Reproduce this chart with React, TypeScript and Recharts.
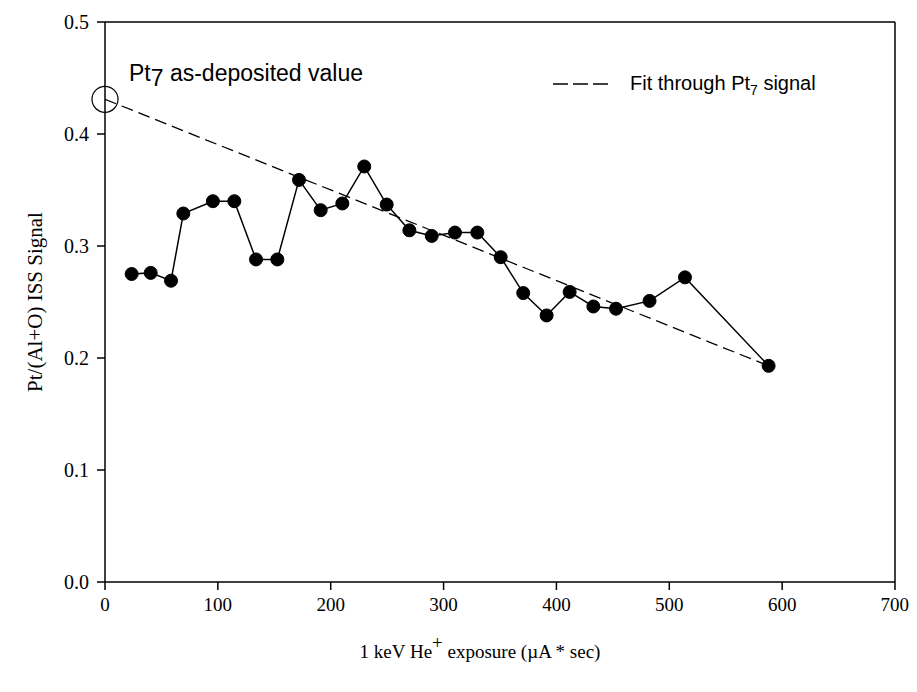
import { ComposedChart, Line, XAxis, YAxis, ReferenceLine, ReferenceDot, Label } from 'recharts';

// ISS signal vs. He+ exposure
const exposure = [
  23.6, 40.5, 58.5, 69.4, 95.6, 114.6, 133.8, 152.7, 171.9, 191.1, 210.3, 229.7, 249.6,
  269.7, 289.5, 310.1, 329.9, 350.6, 370.6, 391.3, 411.7, 432.7, 452.8, 482.5, 513.9, 588,
];
const signal = [
  0.275, 0.276, 0.269, 0.329, 0.34, 0.34, 0.288, 0.288, 0.359, 0.332, 0.338, 0.371, 0.337,
  0.314, 0.309, 0.312, 0.312, 0.29, 0.258, 0.238, 0.259, 0.246, 0.244, 0.251, 0.272, 0.193,
];

// straight fit through the Pt7 signal
const fitExposure = [0, 588];
const fitSignal = [0.431, 0.193];

// as-deposited value
const asDepositedExposure = 0;
const asDepositedSignal = 0.431;

const xTicks = [0, 100, 200, 300, 400, 500, 600, 700];
const yTicks = [0, 0.1, 0.2, 0.3, 0.4, 0.5];

const measured = exposure.map((x, i) => ({ x, y: signal[i] }));
const fit = fitExposure.map((x, i) => ({ x, y: fitSignal[i] }));

const W = 901;
const H = 676;
const serif = '"Liberation Serif", "Times New Roman", serif';
const sans = '"Liberation Sans", Arial, sans-serif';

function YTitle(props: any) {
  const vb = props.viewBox;
  const cx = vb.x + 7;
  const cy = vb.y + vb.height / 2;
  return (
    <text
      x={cx}
      y={cy}
      transform={`rotate(-90 ${cx} ${cy})`}
      textAnchor="middle"
      dominantBaseline="central"
      fontFamily={serif}
      fontSize={21}
      fill="#000"
    >
      Pt/(Al+O) ISS Signal
    </text>
  );
}

function XTitle(props: any) {
  const vb = props.viewBox;
  return (
    <text
      x={vb.x + vb.width / 2 - 20}
      y={vb.y + 76}
      textAnchor="middle"
      fontFamily={serif}
      fontSize={19}
      fill="#000"
    >
      1 keV He
      <tspan dy={-9} fontSize={19}>+</tspan>
      <tspan dy={9}> exposure (µA * sec)</tspan>
    </text>
  );
}

export default function App() {
  return (
    <div style={{ position: 'relative', width: W, height: H }}>
      <ComposedChart width={W} height={H} margin={{ top: 14, right: 14, bottom: 42, left: 20 }}>
        <XAxis
          type="number"
          dataKey="x"
          domain={[0, 700]}
          ticks={xTicks}
          allowDataOverflow
          height={60}
          tickSize={8}
          tickMargin={8}
          stroke="#000"
          strokeWidth={1.5}
          tick={{ fill: '#000', fontSize: 19, fontFamily: serif }}
        >
          <Label content={XTitle} />
        </XAxis>
        <YAxis
          type="number"
          domain={[0, 0.5]}
          ticks={yTicks}
          tickFormatter={(v: number) => v.toFixed(1)}
          allowDataOverflow
          width={77}
          tickSize={8}
          tickMargin={8}
          stroke="#000"
          strokeWidth={1.5}
          tick={{ fill: '#000', fontSize: 20, fontFamily: serif }}
        >
          <Label content={YTitle} />
        </YAxis>
        <ReferenceLine y={0.5} stroke="#000" strokeWidth={1.5} />
        <ReferenceLine x={700} stroke="#000" strokeWidth={1.5} />
        <Line
          data={fit}
          dataKey="y"
          type="linear"
          stroke="#000"
          strokeWidth={1.3}
          strokeDasharray="12 6"
          dot={false}
          isAnimationActive={false}
        />
        <Line
          data={measured}
          dataKey="y"
          type="linear"
          stroke="#000"
          strokeWidth={1.5}
          dot={{ r: 6.5, fill: '#000', stroke: '#000', strokeWidth: 1 }}
          isAnimationActive={false}
        />
        <ReferenceDot
          x={asDepositedExposure}
          y={asDepositedSignal}
          r={13}
          fill="none"
          stroke="#000"
          strokeWidth={1.2}
          ifOverflow="visible"
        />
      </ComposedChart>
      <svg
        width={W}
        height={H}
        style={{ position: 'absolute', left: 0, top: 0, pointerEvents: 'none' }}
      >
        <text x={121} y={73} fontFamily={sans} fontSize={23} fill="#000">
          Pt
          <tspan dy={5}>7</tspan>
          <tspan dy={-5}> as-deposited value</tspan>
        </text>
        <line x1={545} y1={76} x2={601} y2={76} stroke="#000" strokeWidth={1.3} strokeDasharray="15 5" />
        <text x={622} y={82} fontFamily={sans} fontSize={20} fill="#000">
          Fit through Pt
          <tspan dy={5} fontSize={14}>7</tspan>
          <tspan dy={-5}> signal</tspan>
        </text>
      </svg>
    </div>
  );
}
